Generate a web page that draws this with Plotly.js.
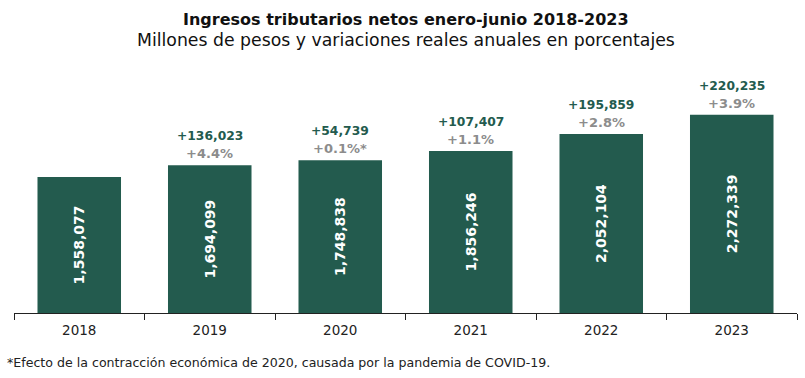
<!DOCTYPE html>
<html><head><meta charset="utf-8">
<script src="https://cdn.plot.ly/plotly-3.0.1.min.js"></script>
<style>html,body{margin:0;padding:0;background:#fff}#chart{width:805px;height:378px}</style>
</head><body><div id="chart"></div>
<script>
const years = ['2018','2019','2020','2021','2022','2023'];
const ingresos = [1558077, 1694099, 1748838, 1856246, 2052104, 2272339];
const diferencias = [null, 136023, 54739, 107407, 195859, 220235];
const variaciones = [null, '+4.4%', '+0.1%*', '+1.1%', '+2.8%', '+3.9%'];

const FONT = 'DejaVu Sans, sans-serif';
const GREEN = '#235B4E';

const fmt = v => v.toLocaleString('en-US');

const annotations = [];
years.forEach((y, i) => {
  if (diferencias[i] !== null) {
    annotations.push({x: i, y: ingresos[i], xref: 'x', yref: 'y', yanchor: 'bottom', yshift: 20,
      text: '<b>+' + fmt(diferencias[i]) + '</b>', showarrow: false,
      font: {family: FONT, size: 12.3, color: GREEN}});
    annotations.push({x: i, y: ingresos[i], xref: 'x', yref: 'y', yanchor: 'bottom', yshift: 2,
      text: '<b>' + variaciones[i] + '</b>', showarrow: false,
      font: {family: FONT, size: 13, color: '#8c8c8c'}});
  }
});
annotations.push({xref: 'paper', yref: 'paper', x: 0.5, y: 1.162, xanchor: 'center', yanchor: 'middle',
  text: '<b>Ingresos tributarios netos enero-junio 2018-2023</b>', showarrow: false,
  font: {family: FONT, size: 16, color: '#111'}});
annotations.push({xref: 'paper', yref: 'paper', x: 0.5, y: 1.079, xanchor: 'center', yanchor: 'middle',
  text: 'Millones de pesos y variaciones reales anuales en porcentajes', showarrow: false,
  font: {family: FONT, size: 17.3, color: '#111'}});
annotations.push({xref: 'paper', yref: 'paper', x: -0.012, y: -0.194, xanchor: 'left', yanchor: 'middle',
  text: '*Efecto de la contracción económica de 2020, causada por la pandemia de COVID-19.',
  showarrow: false, font: {family: FONT, size: 12.6, color: '#222'}});

const trace = {
  type: 'bar', x: years, y: ingresos,
  text: ingresos.map(fmt), textposition: 'inside', textangle: -90,
  insidetextanchor: 'middle', constraintext: 'none',
  textfont: {family: FONT, size: 14, color: '#fff', weight: 'bold'},
  marker: {color: GREEN}, width: 0.64, hoverinfo: 'none'
};

const layout = {
  width: 805, height: 378,
  margin: {l: 14, r: 8, t: 60, b: 65},
  paper_bgcolor: '#fff', plot_bgcolor: '#fff',
  xaxis: {type: 'category', range: [-0.5, 5.5], showline: true, linecolor: '#222', linewidth: 1,
    ticks: 'outside', tickson: 'boundaries', ticklen: 6, tickcolor: '#222', ticklabelstandoff: 5,
    tickfont: {family: FONT, size: 13.5, color: '#222'}, showgrid: false, zeroline: false},
  yaxis: {range: [0, 2898510], visible: false, showgrid: false, zeroline: false},
  annotations: annotations,
  showlegend: false
};
Plotly.newPlot('chart', [trace], layout, {displayModeBar: false, staticPlot: true});
</script></body></html>
